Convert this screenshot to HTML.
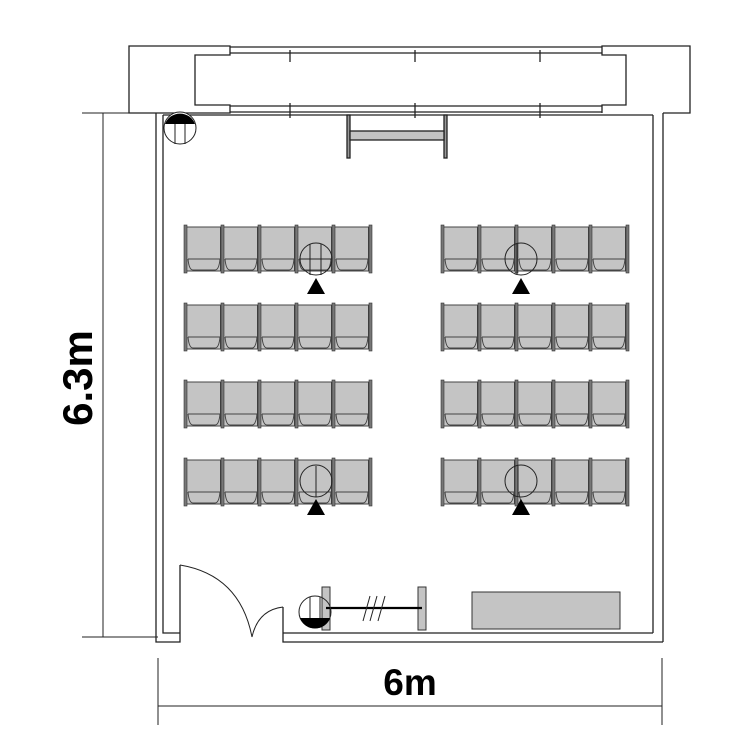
<!DOCTYPE html>
<html><head><meta charset="utf-8"><style>html,body{margin:0;padding:0;background:#fff}svg{display:block}</style></head>
<body>
<svg width="750" height="750" viewBox="0 0 750 750" xmlns="http://www.w3.org/2000/svg">
<defs>
<g id="ch">
<rect x="1.5" y="1" width="34" height="44" fill="#c4c4c4" stroke="#444" stroke-width="1"/>
<path d="M3,33 Q4,44 8,44 L30,44 Q34,44 35,33" fill="none" stroke="#444" stroke-width="1"/>
<line x1="3" y1="33" x2="35" y2="33" stroke="#444" stroke-width="1"/>
</g>
<g id="row">
<use href="#ch" x="0"/><use href="#ch" x="37"/><use href="#ch" x="74"/><use href="#ch" x="111"/><use href="#ch" x="148"/>
<rect x="-1" y="-1" width="3" height="48" fill="#777" stroke="#333" stroke-width="0.6"/>
<rect x="36" y="-1" width="3" height="48" fill="#777" stroke="#333" stroke-width="0.6"/>
<rect x="73" y="-1" width="3" height="48" fill="#777" stroke="#333" stroke-width="0.6"/>
<rect x="110" y="-1" width="3" height="48" fill="#777" stroke="#333" stroke-width="0.6"/>
<rect x="147" y="-1" width="3" height="48" fill="#777" stroke="#333" stroke-width="0.6"/>
<rect x="184" y="-1" width="3" height="48" fill="#777" stroke="#333" stroke-width="0.6"/>
</g>
</defs>
<g fill="none" stroke="#222" stroke-width="1.3">
<path d="M156,113 L129,113 L129,46 L230,46 L230,55 L195,55 L195,105 L230,105 L230,113 L156,113"/>
<path d="M663,113 L690,113 L690,46 L602,46 L602,55 L626,55 L626,105 L602,105 L602,113"/>
<line x1="230" y1="47" x2="602" y2="47"/><line x1="230" y1="53" x2="602" y2="53"/>
<line x1="230" y1="106" x2="602" y2="106"/><line x1="230" y1="112" x2="602" y2="112"/>
<line x1="290" y1="50" x2="290" y2="62"/><line x1="415" y1="50" x2="415" y2="62"/><line x1="540" y1="50" x2="540" y2="62"/>
<line x1="290" y1="103" x2="290" y2="118"/><line x1="415" y1="103" x2="415" y2="118"/><line x1="540" y1="103" x2="540" y2="118"/>
<path d="M156,113 L156,642 L180,642 L180,565"/>
<path d="M163,115 L163,633 L180,633"/>
<line x1="163" y1="115" x2="653" y2="115"/>
<line x1="663" y1="113" x2="663" y2="642"/>
<line x1="653" y1="115" x2="653" y2="633"/>
<path d="M283,607 L283,642 L663,642"/>
<line x1="283" y1="633" x2="653" y2="633"/>
<path d="M180,565 Q240,575 252,637" stroke-width="1"/>
<path d="M283,607 Q258,610 252,637" stroke-width="1"/>
<rect x="347" y="115" width="3" height="43" fill="#999"/>
<rect x="444" y="115" width="3" height="43" fill="#999"/>
<rect x="350" y="131" width="94" height="9" fill="#c4c4c4"/>
<line x1="103" y1="113" x2="103" y2="637" stroke-width="1"/>
<line x1="82" y1="113" x2="158" y2="113" stroke-width="1"/>
<line x1="82" y1="637" x2="158" y2="637" stroke-width="1"/>
<line x1="158" y1="706" x2="662" y2="706" stroke-width="1"/>
<line x1="158" y1="658" x2="158" y2="725" stroke-width="1"/>
<line x1="662" y1="658" x2="662" y2="725" stroke-width="1"/>
</g>
<use href="#row" x="185" y="226"/><use href="#row" x="442" y="226"/>
<use href="#row" x="185" y="304"/><use href="#row" x="442" y="304"/>
<use href="#row" x="185" y="381"/><use href="#row" x="442" y="381"/>
<use href="#row" x="185" y="459"/><use href="#row" x="442" y="459"/>
<g fill="none" stroke="#222" stroke-width="1">
<circle cx="316" cy="259" r="16"/><line x1="310" y1="244" x2="310" y2="275"/><line x1="321" y1="244" x2="321" y2="275"/><line x1="300" y1="259" x2="332" y2="259"/>
<circle cx="521" cy="259" r="16"/><line x1="517" y1="244" x2="517" y2="275"/>
<circle cx="316" cy="481" r="16"/><line x1="316" y1="466" x2="316" y2="497"/>
<circle cx="521" cy="481" r="16"/><line x1="518" y1="466" x2="518" y2="497"/>
</g>
<g fill="#000">
<polygon points="316,278 307,294 325,294"/><polygon points="521,278 512,294 530,294"/>
<polygon points="316,499 307,515 325,515"/><polygon points="521,499 512,515 530,515"/>
</g>
<circle cx="180" cy="128" r="16" fill="#fff" stroke="#222"/>
<path d="M165,124 A16,16 0 0 1 195,124 Z" fill="#000"/>
<line x1="175" y1="124" x2="175" y2="144" stroke="#222"/><line x1="185" y1="124" x2="185" y2="144" stroke="#222"/>
<rect x="322" y="587" width="8" height="43" fill="#c4c4c4" stroke="#333"/>
<rect x="418" y="587" width="8" height="43" fill="#c4c4c4" stroke="#333"/>
<line x1="326" y1="608" x2="422" y2="608" stroke="#000" stroke-width="2.2"/>
<g stroke="#222"><line x1="363" y1="621" x2="370" y2="596"/><line x1="370" y1="621" x2="377" y2="596"/><line x1="378" y1="621" x2="385" y2="596"/></g>
<circle cx="315" cy="612" r="16" fill="none" stroke="#222"/>
<path d="M300,618 A16,16 0 0 0 330,618 Z" fill="#000"/>
<line x1="310" y1="597" x2="310" y2="618" stroke="#222"/><line x1="320" y1="597" x2="320" y2="618" stroke="#222"/>
<rect x="472" y="592" width="148" height="37" fill="#c4c4c4" stroke="#333"/>
<text x="410" y="695" font-family="Liberation Sans, sans-serif" font-size="37" font-weight="bold" text-anchor="middle" fill="#000">6m</text>
<text transform="translate(92,378) rotate(-90)" font-family="Liberation Sans, sans-serif" font-size="42" font-weight="bold" text-anchor="middle" fill="#000">6.3m</text>
</svg>
</body></html>
